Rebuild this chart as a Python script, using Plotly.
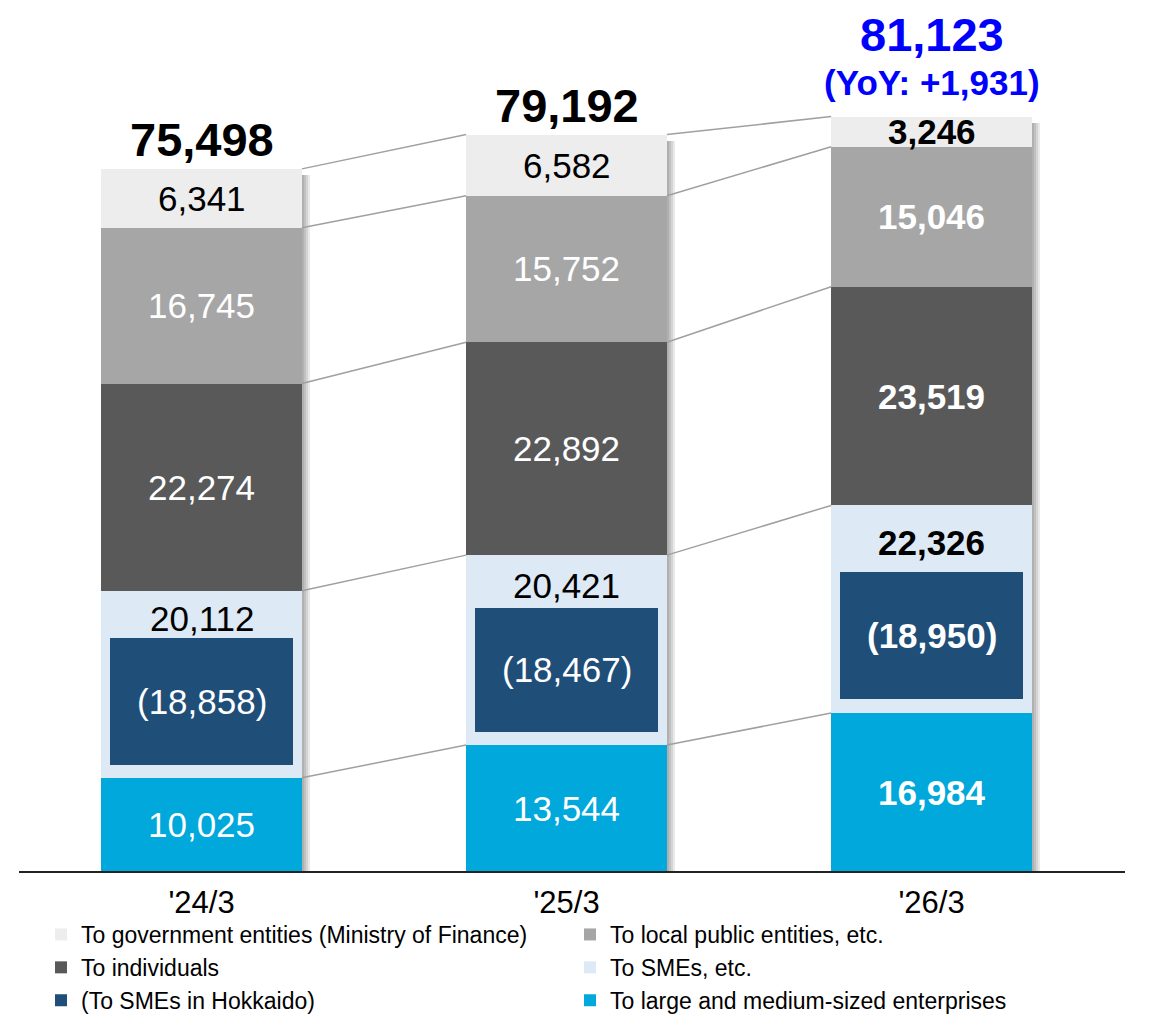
import plotly.graph_objects as go

# Loan balance by borrower type (units as stated in the labels)
periods = ["'24/3", "'25/3", "'26/3"]
large = [10025, 13544, 16984]
smes = [20112, 20421, 22326]
hokkaido = [18858, 18467, 18950]
individuals = [22274, 22892, 23519]
local_public = [16745, 15752, 15046]
government = [6341, 6582, 3246]
totals = [75498, 79192, 81123]

names = {
    "government": "To government entities (Ministry of Finance)",
    "local": "To local public entities, etc.",
    "individuals": "To individuals",
    "smes": "To SMEs, etc.",
    "hokkaido": "(To SMEs in Hokkaido)",
    "large": "To large and medium-sized enterprises",
}
colors = {
    "government": "#EDEDED",
    "local": "#A6A6A6",
    "individuals": "#595959",
    "smes": "#DDE9F5",
    "hokkaido": "#1F4E79",
    "large": "#00A8DB",
}
label_colors = {
    "government": "#000000",
    "local": "#FFFFFF",
    "individuals": "#FFFFFF",
    "smes": "#000000",
    "hokkaido": "#FFFFFF",
    "large": "#FFFFFF",
}

FONT = "Liberation Sans, Arial, sans-serif"
W, H = 1166, 1015
PX_PER_UNIT = 365.0          # x-axis pixels per category step
BAR_W = 0.55
INNER_W = 0.50
x = list(range(len(periods)))

# stacked bases, bottom to top
stack = [("large", large), ("smes", smes), ("individuals", individuals),
         ("local", local_public), ("government", government)]
bases = {}
run = [0] * len(x)
for key, vals in stack:
    bases[key] = run[:]
    run = [r + v for r, v in zip(run, vals)]
tops = run

# Hokkaido box drawn inside the SME segment
hk_base = [lb + 0.07 * s for lb, s in zip(bases["smes"], smes)]
hk_height = [0.72 * h for h in hokkaido]

fig = go.Figure()

# soft drop shadow on the right side of each bar
for k in (2, 4, 6, 8):
    fig.add_trace(go.Bar(
        x=x, y=[t - 650 for t in tops], base=0, width=BAR_W,
        offset=-BAR_W / 2 + k / PX_PER_UNIT,
        marker=dict(color="rgba(0,0,0,0.085)", line=dict(width=0)),
        showlegend=False, hoverinfo="skip"))

series = {
    "government": (government, bases["government"], BAR_W),
    "local": (local_public, bases["local"], BAR_W),
    "individuals": (individuals, bases["individuals"], BAR_W),
    "smes": (smes, bases["smes"], BAR_W),
    "hokkaido": (hk_height, hk_base, INNER_W),
    "large": (large, bases["large"], BAR_W),
}
for key in ["government", "local", "individuals", "smes", "hokkaido", "large"]:
    vals, base, w = series[key]
    fig.add_trace(go.Bar(
        x=x, y=vals, base=base, width=w, name=names[key],
        marker=dict(color=colors[key], line=dict(width=0)),
        hoverinfo="skip"))

# connector lines between neighbouring bars at every stack boundary
boundaries = [bases["smes"], bases["individuals"], bases["local"],
              bases["government"], tops]
lx, ly = [], []
for i in range(len(x) - 1):
    for b in boundaries:
        lx += [x[i] + BAR_W / 2, x[i + 1] - BAR_W / 2, None]
        ly += [b[i], b[i + 1], None]
fig.add_trace(go.Scatter(x=lx, y=ly, mode="lines",
                         line=dict(color="#A0A0A0", width=1.5),
                         showlegend=False, hoverinfo="skip"))

annotations = []


def seg_label(i, yval, text, color, size=35):
    bold = i == len(x) - 1
    annotations.append(dict(
        x=x[i], y=yval, xref="x", yref="y", showarrow=False,
        text=f"<b>{text}</b>" if bold else text,
        font=dict(family=FONT, size=size, color=color),
        xanchor="center", yanchor="middle"))


for i in range(len(x)):
    seg_label(i, bases["large"][i] + large[i] / 2, f"{large[i]:,}", label_colors["large"])
    hk_top = hk_base[i] + hk_height[i]
    seg_label(i, hk_base[i] + hk_height[i] / 2, f"({hokkaido[i]:,})", label_colors["hokkaido"])
    sme_top = bases["smes"][i] + smes[i]
    seg_label(i, (hk_top + sme_top) / 2 - 450, f"{smes[i]:,}", label_colors["smes"])
    seg_label(i, bases["individuals"][i] + individuals[i] / 2, f"{individuals[i]:,}",
              label_colors["individuals"])
    seg_label(i, bases["local"][i] + local_public[i] / 2, f"{local_public[i]:,}",
              label_colors["local"])
    seg_label(i, bases["government"][i] + government[i] / 2, f"{government[i]:,}",
              label_colors["government"])

# totals above the bars
for i in range(len(x) - 1):
    annotations.append(dict(
        x=x[i], y=tops[i], xref="x", yref="y", showarrow=False,
        text=f"<b>{totals[i]:,}</b>", yanchor="bottom", yshift=1,
        font=dict(family=FONT, size=47, color="#000000")))
last = len(x) - 1
yoy = totals[last] - totals[last - 1]
annotations.append(dict(
    x=x[last], y=tops[last], xref="x", yref="y", showarrow=False,
    text=f"<b>(YoY: {yoy:+,})</b>", yanchor="bottom", yshift=13,
    font=dict(family=FONT, size=35, color="#0000FF")))
annotations.append(dict(
    x=x[last], y=tops[last], xref="x", yref="y", showarrow=False,
    text=f"<b>{totals[last]:,}</b>", yanchor="bottom", yshift=54,
    font=dict(family=FONT, size=47, color="#0000FF")))

PLOT_H = H - 10 - 144
fig.update_layout(
    width=W, height=H,
    margin=dict(l=19, r=41, t=10, b=144, autoexpand=False),
    paper_bgcolor="white", plot_bgcolor="white",
    barmode="overlay", bargap=0,
    font=dict(family=FONT, color="#000000"),
    annotations=annotations,
    legend=dict(orientation="h", xref="container", yref="container",
                x=41 / W, xanchor="left", y=1 - 913 / H, yanchor="top",
                font=dict(family=FONT, size=23, color="#000000"),
                entrywidth=484, traceorder="normal", itemclick=False,
                maxheight=300, bgcolor="rgba(0,0,0,0)"),
)
fig.update_xaxes(range=[-0.5, 2.53], tickvals=x, ticktext=periods,
                 showgrid=False, zeroline=False, showline=True,
                 linecolor="#222222", linewidth=2, ticks="",
                 ticklabelstandoff=3,
                 tickfont=dict(family=FONT, size=31, color="#000000"))
fig.update_yaxes(range=[0, PLOT_H / 0.0093], visible=False, showgrid=False,
                 zeroline=False)

fig.write_html("out.html")
